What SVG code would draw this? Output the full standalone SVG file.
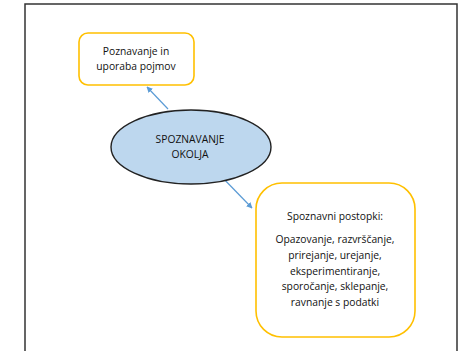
<svg xmlns="http://www.w3.org/2000/svg" width="462" height="351" viewBox="0 0 462 351">
<defs>
<style>
.box{fill:#fff;stroke:#FFC000;stroke-width:1.6}
.t{font-family:"Open Sans","Liberation Sans",sans-serif;font-size:10.3px;fill:#111;text-anchor:middle}
.c{stroke:#5B9BD5;stroke-width:1.2;fill:none}
</style>
<marker id="ah" viewBox="0 0 10 10" refX="9" refY="5" markerWidth="6" markerHeight="6" orient="auto" markerUnits="userSpaceOnUse">
<path d="M0,0 L10,5 L0,10 z" fill="#5B9BD5"/>
</marker>
</defs>
<rect width="462" height="351" fill="#fff"/>
<path d="M25,360 V4 H457 V360" fill="none" stroke="#333" stroke-width="1.5"/>
<g id="connectors">
<line class="c" x1="168" y1="109" x2="147" y2="87" marker-end="url(#ah)"/>
<line class="c" x1="219" y1="174" x2="252" y2="208" marker-end="url(#ah)"/>
</g>
<g id="node-pojmi">
<rect class="box" x="79" y="33" width="115" height="52" rx="9"/>
<text class="t" x="136" y="55">Poznavanje in</text>
<text class="t" x="136" y="70">uporaba pojmov</text>
</g>
<g id="node-center">
<ellipse cx="191" cy="147" rx="80" ry="37" fill="#BDD7EE" stroke="#222" stroke-width="1.4"/>
<text class="t" x="190" y="143">SPOZNAVANJE</text>
<text class="t" x="190" y="158">OKOLJA</text>
</g>
<g id="node-postopki">
<rect class="box" x="256" y="183" width="159" height="154" rx="26"/>
<text class="t" x="335" y="220">Spoznavni postopki:</text>
<text class="t" x="335" y="243">Opazovanje, razvrščanje,</text>
<text class="t" x="335" y="259">prirejanje, urejanje,</text>
<text class="t" x="335" y="274.5">eksperimentiranje,</text>
<text class="t" x="335" y="290">sporočanje, sklepanje,</text>
<text class="t" x="335" y="305.5">ravnanje s podatki</text>
</g>
</svg>
